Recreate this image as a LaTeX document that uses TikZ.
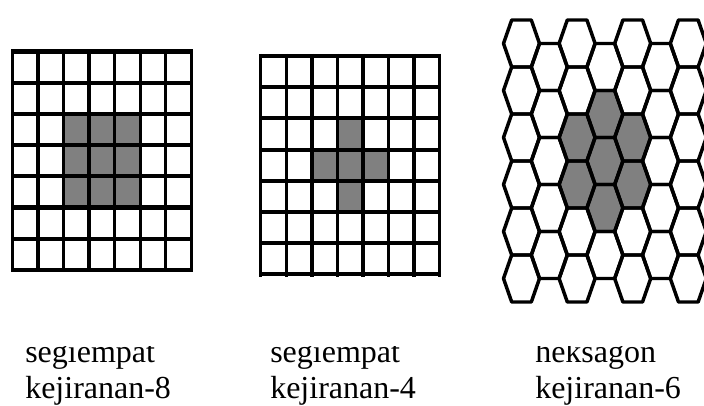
\documentclass[tikz,border=0pt]{standalone}
\usepackage{fontspec}
\setmainfont{Liberation Serif}
\definecolor{cellgray}{RGB}{128,128,128}
\tikzset{
  vline/.style={line width=2.5pt},
  hline/.style={line width=3.1pt},
  hexline/.style={line width=2.6pt, line join=round},
  captext/.style={anchor=base west, inner sep=0pt, font=\fontsize{24pt}{28pt}\selectfont},
}
% one flat-topped hexagon centred at (#1,#2), drawn with options #3
\newcommand\hexcell[3]{%
  \path[#3] ({#1-9.8},{#2-23.5}) -- ({#1+9.8},{#2-23.5}) -- ({#1+18},{#2})
    -- ({#1+9.8},{#2+23.5}) -- ({#1-9.8},{#2+23.5}) -- ({#1-18},{#2}) -- cycle;}
\begin{document}
\begin{tikzpicture}[x=0.75pt,y=-0.75pt]
\useasboundingbox (0,0) rectangle (704,405);
\clip (0,0) rectangle (704,405);

% square grid, 8-neighbourhood
\foreach \cc/\rr in {2/2,3/2,4/2,2/3,3/3,4/3,2/4,3/4,4/4}
  \fill[cellgray] ({12.5+\cc*25.54},{51.5+\rr*31.2}) rectangle +(25.54,31.2);
\foreach \i in {0,...,7} {
  \draw[vline] ({12.5+\i*25.54},49.4) -- ({12.5+\i*25.54},272);
  \draw[hline] (11,{51.5+\i*31.2}) -- (193,{51.5+\i*31.2});
}

% square grid, 4-neighbourhood
\foreach \cc/\rr in {3/2,2/3,3/3,4/3,3/4}
  \fill[cellgray] ({260.7+\cc*25.57},{56+\rr*31.2}) rectangle +(25.57,31.2);
\foreach \i in {0,...,7} {
  \draw[vline] ({260.7+\i*25.57},53.9) -- ({260.7+\i*25.57},276.6);
  \draw[hline] (259,{56+\i*31.2}) -- (441.4,{56+\i*31.2});
}

% hexagonal grid, 6-neighbourhood
\foreach \k/\j in {3/1,3/2,3/3}
  \hexcell{521.5+27.8*\k}{67+47*\j}{fill=cellgray};
\foreach \k/\j in {2/2,2/3,4/2,4/3}
  \hexcell{521.5+27.8*\k}{43.5+47*\j}{fill=cellgray};
\foreach \k in {0,2,4,6}
  \foreach \j in {0,...,5}
    \hexcell{521.5+27.8*\k}{43.5+47*\j}{draw,hexline};
\foreach \k in {1,3,5}
  \foreach \j in {0,...,4}
    \hexcell{521.5+27.8*\k}{67+47*\j}{draw,hexline};

% captions
\begin{scope}
  \clip (0,346) rectangle (704,405);
  \node[captext] (t1) at (25,362) {segiempat};
  \node[captext] (t2) at (270,362) {segiempat};
  \node[captext] (t3) at (535,362) {heksagon};
\end{scope}
\node[captext] (b1) at (25,398) {kejiranan-8};
\node[captext] (b2) at (270,398) {kejiranan-4};
\node[captext] (b3) at (535,398) {kejiranan-6};
\end{tikzpicture}
\end{document}
